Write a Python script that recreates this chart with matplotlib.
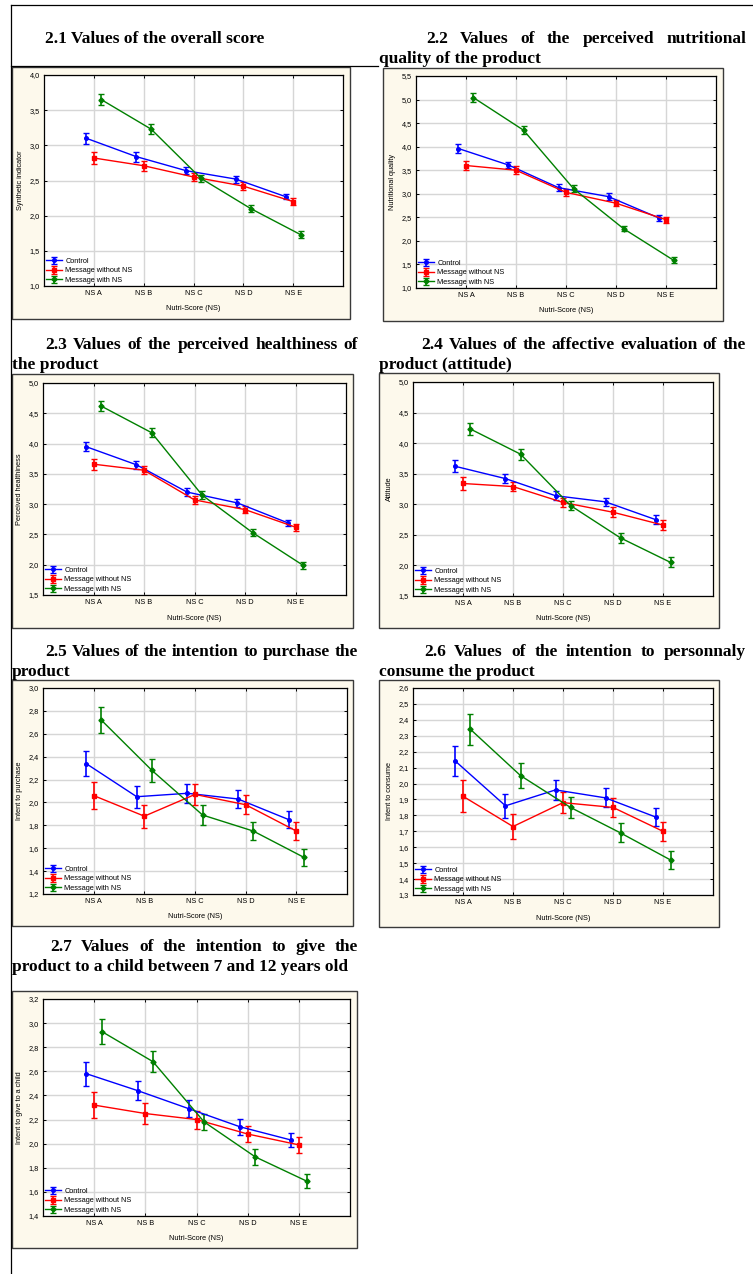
import matplotlib
matplotlib.use("Agg")
import matplotlib.pyplot as plt
from matplotlib.patches import Rectangle
from matplotlib.lines import Line2D
from matplotlib.ticker import MultipleLocator, FuncFormatter

W, H = 753, 1274

groups = ["NS A", "NS B", "NS C", "NS D", "NS E"]
series_names = ["Control", "Message without NS", "Message with NS"]

# 2.1 overall score
score_ctrl = [3.10, 2.84, 2.64, 2.52, 2.27]
score_ctrl_err = [0.08, 0.07, 0.05, 0.05, 0.04]
score_msg = [2.82, 2.71, 2.55, 2.42, 2.20]
score_msg_err = [0.09, 0.07, 0.06, 0.06, 0.05]
score_ns = [3.65, 3.23, 2.53, 2.10, 1.73]
score_ns_err = [0.08, 0.07, 0.05, 0.05, 0.05]

# 2.2 perceived nutritional quality
nutri_ctrl = [3.96, 3.61, 3.13, 2.94, 2.49]
nutri_ctrl_err = [0.09, 0.07, 0.07, 0.07, 0.06]
nutri_msg = [3.60, 3.50, 3.03, 2.80, 2.45]
nutri_msg_err = [0.10, 0.08, 0.07, 0.07, 0.06]
nutri_ns = [5.04, 4.35, 3.11, 2.26, 1.59]
nutri_ns_err = [0.09, 0.08, 0.07, 0.06, 0.06]

# 2.3 perceived healthiness
health_ctrl = [3.95, 3.65, 3.20, 3.02, 2.69]
health_ctrl_err = [0.08, 0.07, 0.06, 0.06, 0.05]
health_msg = [3.66, 3.56, 3.07, 2.91, 2.62]
health_msg_err = [0.09, 0.07, 0.07, 0.06, 0.06]
health_ns = [4.62, 4.18, 3.15, 2.53, 1.99]
health_ns_err = [0.08, 0.07, 0.06, 0.06, 0.06]

# 2.4 attitude
att_ctrl = [3.62, 3.42, 3.14, 3.04, 2.75]
att_ctrl_err = [0.10, 0.08, 0.07, 0.07, 0.07]
att_msg = [3.34, 3.29, 3.03, 2.87, 2.66]
att_msg_err = [0.10, 0.08, 0.08, 0.08, 0.08]
att_ns = [4.23, 3.82, 2.98, 2.45, 2.05]
att_ns_err = [0.10, 0.09, 0.08, 0.08, 0.08]

# 2.5 intent to purchase
buy_ctrl = [2.34, 2.05, 2.08, 2.03, 1.85]
buy_ctrl_err = [0.11, 0.095, 0.085, 0.08, 0.075]
buy_msg = [2.06, 1.88, 2.07, 1.98, 1.75]
buy_msg_err = [0.115, 0.10, 0.09, 0.085, 0.075]
buy_ns = [2.72, 2.28, 1.89, 1.75, 1.52]
buy_ns_err = [0.11, 0.10, 0.09, 0.08, 0.075]

# 2.6 intent to consume
eat_ctrl = [2.14, 1.86, 1.96, 1.91, 1.79]
eat_ctrl_err = [0.094, 0.075, 0.065, 0.06, 0.057]
eat_msg = [1.92, 1.73, 1.88, 1.85, 1.70]
eat_msg_err = [0.10, 0.078, 0.067, 0.062, 0.058]
eat_ns = [2.34, 2.05, 1.85, 1.69, 1.52]
eat_ns_err = [0.096, 0.077, 0.065, 0.06, 0.057]

# 2.7 intent to give to a child
child_ctrl = [2.58, 2.44, 2.29, 2.14, 2.03]
child_ctrl_err = [0.10, 0.08, 0.07, 0.065, 0.06]
child_msg = [2.32, 2.25, 2.20, 2.08, 1.99]
child_msg_err = [0.105, 0.085, 0.075, 0.065, 0.065]
child_ns = [2.93, 2.68, 2.18, 1.89, 1.69]
child_ns_err = [0.10, 0.085, 0.07, 0.065, 0.06]

ylabels = ["Synthetic indicator", "Nutritional quality", "Perceived healthiness",
           "Attitude", "Intent to purchase", "Intent to consume",
           "Intent to give to a child"]

titles = [
    ["2.1 Values of the overall score"],
    ["2.2 Values of the perceived nutritional", "quality of the product"],
    ["2.3 Values of the perceived healthiness of", "the product"],
    ["2.4 Values of the affective evaluation of the", "product (attitude)"],
    ["2.5 Values of the intention to purchase the", "product"],
    ["2.6 Values of the intention to personnaly", "consume the product"],
    ["2.7 Values of the intention to give the",
     "product to a child between 7 and 12 years old"],
]

data = [
    (score_ctrl, score_ctrl_err, score_msg, score_msg_err, score_ns, score_ns_err),
    (nutri_ctrl, nutri_ctrl_err, nutri_msg, nutri_msg_err, nutri_ns, nutri_ns_err),
    (health_ctrl, health_ctrl_err, health_msg, health_msg_err, health_ns, health_ns_err),
    (att_ctrl, att_ctrl_err, att_msg, att_msg_err, att_ns, att_ns_err),
    (buy_ctrl, buy_ctrl_err, buy_msg, buy_msg_err, buy_ns, buy_ns_err),
    (eat_ctrl, eat_ctrl_err, eat_msg, eat_msg_err, eat_ns, eat_ns_err),
    (child_ctrl, child_ctrl_err, child_msg, child_msg_err, child_ns, child_ns_err),
]

# y range and tick step per panel
yranges = [(1.0, 4.0, 0.5), (1.0, 5.5, 0.5), (1.5, 5.0, 0.5), (1.5, 5.0, 0.5),
           (1.2, 3.0, 0.2), (1.3, 2.6, 0.1), (1.4, 3.2, 0.2)]

# layout in pixels: outer box, plot area, title lines (x0, x1, baseline)
outer_boxes = [(12, 67, 350, 319), (383, 68, 723, 321), (12, 374, 353, 628),
               (379, 373, 719, 628), (12, 680, 353, 926), (379, 680, 719, 927),
               (12, 991, 357, 1248)]
plot_boxes = [(44, 75, 343, 286), (416, 76, 716, 288), (43, 383, 346, 595),
              (413, 382, 713, 596), (43, 688, 347, 894), (413, 688, 713, 895),
              (43, 999, 350, 1216)]
title_pos = [
    [(45, None, 43)],
    [(426, 746, 43), (379, None, 63)],
    [(45, 358, 349), (12, None, 369)],
    [(421, 746, 349), (379, None, 369)],
    [(45, 358, 656), (12, None, 676)],
    [(424, 746, 656), (379, None, 676)],
    [(50, 358, 951), (12, None, 971)],
]

colors = ["#0000ff", "#ff0000", "#008000"]
markers = ["o", "s", "D"]
offsets = [-0.15, 0.0, 0.15]

plt.rcParams["font.family"] = ["Liberation Sans", "DejaVu Sans"]


def fx(x):
    return x / W


def fy(y):
    return 1 - y / H


def comma(v, pos):
    return f"{v:.1f}".replace(".", ",")


fig = plt.figure(figsize=(W / 100, H / 100), dpi=100)
renderer = fig.canvas.get_renderer()

# table borders
for xs, ys in [((11, 11), (5, 1274)), ((11, 753), (5, 5)), ((11, 378), (66, 66))]:
    fig.add_artist(Line2D([fx(xs[0]), fx(xs[1])], [fy(ys[0]), fy(ys[1])],
                          transform=fig.transFigure, color="black", lw=0.9))

title_kw = dict(family="Liberation Serif", fontweight="bold", fontsize=12.5,
                va="baseline", ha="left")


def title_line(text, x0, x1, y):
    if x1 is None:
        fig.text(fx(x0), fy(y), text, **title_kw)
        return
    words = text.split()
    objs = [fig.text(0, fy(y), w, **title_kw) for w in words]
    widths = [o.get_window_extent(renderer).width for o in objs]
    gap = max(((x1 - x0) - sum(widths)) / (len(words) - 1), 3)
    x = x0
    for o, w in zip(objs, widths):
        o.set_x(fx(x))
        x += w + gap


for i in range(7):
    for text, (x0, x1, y) in zip(titles[i], title_pos[i]):
        title_line(text, x0, x1, y)

    bx0, by0, bx1, by1 = outer_boxes[i]
    fig.add_artist(Rectangle((fx(bx0), fy(by1)), (bx1 - bx0) / W, (by1 - by0) / H,
                             transform=fig.transFigure, facecolor="#fdf9ec",
                             edgecolor="#3a3a3a", lw=1.0, zorder=0))

    px0, py0, px1, py1 = plot_boxes[i]
    ax = fig.add_axes([fx(px0), fy(py1), (px1 - px0) / W, (py1 - py0) / H])
    ax.set_facecolor("white")

    vals = data[i]
    for k in range(3):
        xs = [j + 1 + offsets[k] for j in range(len(groups))]
        ax.errorbar(xs, vals[2 * k], yerr=vals[2 * k + 1], color=colors[k],
                    marker=markers[k], ms=2.6, lw=1.0, elinewidth=1.2,
                    capsize=2.3, capthick=1.0, label=series_names[k], zorder=3)

    lo, hi, step = yranges[i]
    ax.set_xlim(0, 6)
    ax.set_ylim(lo, hi)
    ax.set_xticks(range(1, 6))
    ax.set_xticklabels(groups)
    ax.yaxis.set_major_locator(MultipleLocator(step))
    ax.yaxis.set_major_formatter(FuncFormatter(comma))
    ax.grid(True, color="#d6d6d6", lw=1.0, zorder=0)
    ax.set_axisbelow(True)
    for s in ax.spines.values():
        s.set_color("black")
        s.set_linewidth(0.9)
    ax.tick_params(labelsize=5.3, direction="in", length=2.5, width=0.7,
                   right=True, top=True, pad=3)
    ax.set_xlabel("Nutri-Score (NS)", fontsize=5.3, labelpad=6)
    ax.set_ylabel(ylabels[i], fontsize=5.3, labelpad=4)
    ax.legend(loc="lower left", frameon=False, fontsize=5.3, handlelength=2.2,
              labelspacing=0.3, borderaxespad=0.1, borderpad=0.2,
              handletextpad=0.4)

fig.savefig("out.png", dpi=100)
